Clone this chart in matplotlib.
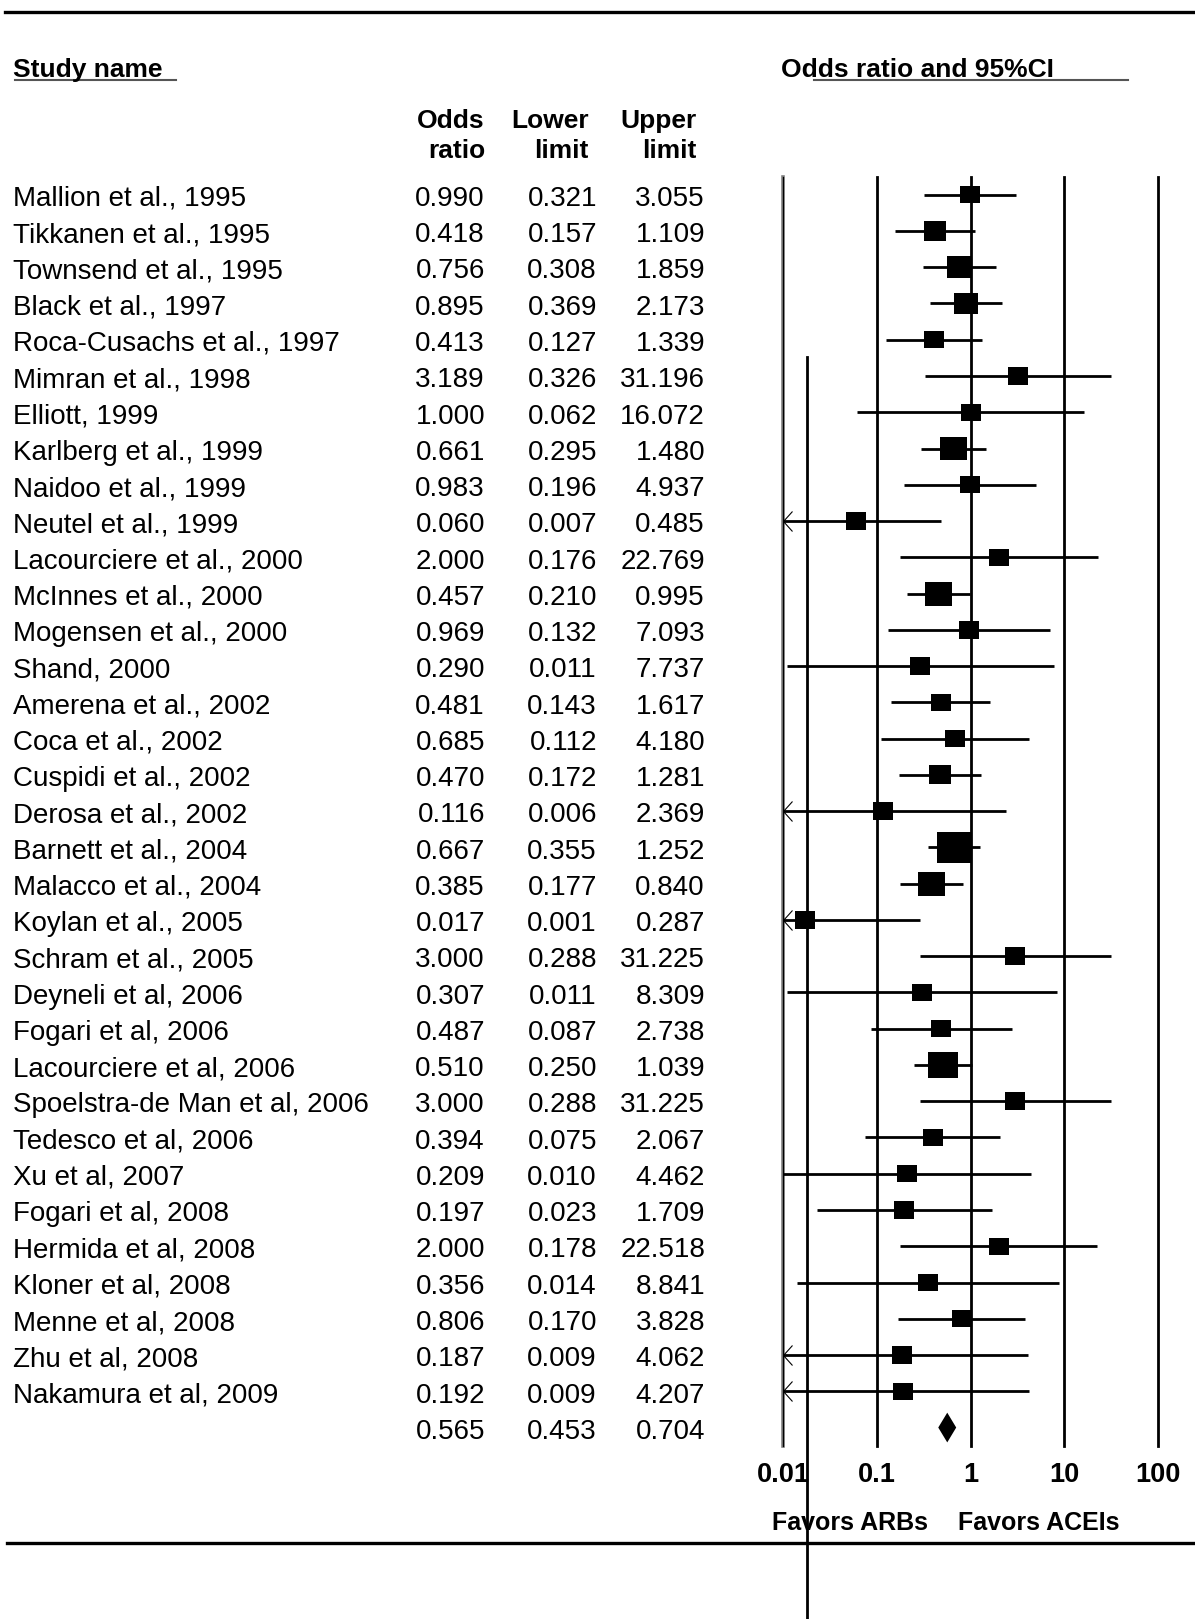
import numpy as np
import matplotlib
matplotlib.use('Agg')
import matplotlib.pyplot as plt
from matplotlib import font_manager
from matplotlib.path import Path
from matplotlib.lines import Line2D
from matplotlib.ticker import NullLocator
from matplotlib.transforms import blended_transform_factory

# the original uses a condensed Arial; use the narrow Liberation cut if present
installed = {f.name for f in font_manager.fontManager.ttflist}
if 'Liberation Sans Narrow' in installed:
    plt.rcParams['font.family'] = ['Liberation Sans Narrow', 'DejaVu Sans']
    fs_scale = 1.07
else:
    plt.rcParams['font.family'] = ['Liberation Sans', 'DejaVu Sans']
    fs_scale = 1.0

# ---- data ----
studies = [
    'Mallion et al., 1995', 'Tikkanen et al., 1995', 'Townsend et al., 1995',
    'Black et al., 1997', 'Roca-Cusachs et al., 1997', 'Mimran et al., 1998',
    'Elliott, 1999', 'Karlberg et al., 1999', 'Naidoo et al., 1999',
    'Neutel et al., 1999', 'Lacourciere et al., 2000', 'McInnes et al., 2000',
    'Mogensen et al., 2000', 'Shand, 2000', 'Amerena et al., 2002',
    'Coca et al., 2002', 'Cuspidi et al., 2002', 'Derosa et al., 2002',
    'Barnett et al., 2004', 'Malacco et al., 2004', 'Koylan et al., 2005',
    'Schram et al., 2005', 'Deyneli et al, 2006', 'Fogari et al, 2006',
    'Lacourciere et al, 2006', 'Spoelstra-de Man et al, 2006', 'Tedesco et al, 2006',
    'Xu et al, 2007', 'Fogari et al, 2008', 'Hermida et al, 2008',
    'Kloner et al, 2008', 'Menne et al, 2008', 'Zhu et al, 2008',
    'Nakamura et al, 2009',
]
odds_ratio = [0.990, 0.418, 0.756, 0.895, 0.413, 3.189, 1.000, 0.661, 0.983,
              0.060, 2.000, 0.457, 0.969, 0.290, 0.481, 0.685, 0.470, 0.116,
              0.667, 0.385, 0.017, 3.000, 0.307, 0.487, 0.510, 3.000, 0.394,
              0.209, 0.197, 2.000, 0.356, 0.806, 0.187, 0.192]
lower = [0.321, 0.157, 0.308, 0.369, 0.127, 0.326, 0.062, 0.295, 0.196,
         0.007, 0.176, 0.210, 0.132, 0.011, 0.143, 0.112, 0.172, 0.006,
         0.355, 0.177, 0.001, 0.288, 0.011, 0.087, 0.250, 0.288, 0.075,
         0.010, 0.023, 0.178, 0.014, 0.170, 0.009, 0.009]
upper = [3.055, 1.109, 1.859, 2.173, 1.339, 31.196, 16.072, 1.480, 4.937,
         0.485, 22.769, 0.995, 7.093, 7.737, 1.617, 4.180, 1.281, 2.369,
         1.252, 0.840, 0.287, 31.225, 8.309, 2.738, 1.039, 31.225, 2.067,
         4.462, 1.709, 22.518, 8.841, 3.828, 4.062, 4.207]
# relative study weight (box size, 1 = smallest box)
box_scale = [1.0, 1.12, 1.25, 1.23, 1.0, 1.0, 1.0, 1.37, 1.0,
             1.0, 1.0, 1.38, 1.0, 1.0, 1.0, 1.0, 1.1, 1.0,
             1.75, 1.37, 1.0, 1.0, 1.0, 1.0, 1.52, 1.0, 1.0,
             1.0, 1.0, 1.0, 1.0, 1.0, 1.0, 1.0]
pooled_or, pooled_lo, pooled_hi = 0.565, 0.453, 0.704
tick_values = [0.01, 0.1, 1, 10, 100]
tick_labels = ['0.01', '0.1', '1', '10', '100']

# ---- layout helpers (pixel -> figure fraction) ----
W, H = 1195, 1619
fig = plt.figure(figsize=(W / 100, H / 100), dpi=100)


def fx(px):
    return px / W


def fy(py):
    return 1 - py / H


FS_ROW = 20 * fs_scale
FS_HEAD = 19 * fs_scale
FS_TICK = 19.5 * fs_scale
FS_FAV = 18 * fs_scale

n_rows = len(studies) + 1
row_h = 36.26
top_px = 194.7 - 0.5 * row_h
bot_px = top_px + n_rows * row_h

ax = fig.add_axes([fx(783), fy(bot_px), fx(1158) - fx(783), (bot_px - top_px) / H])
ax.set_xscale('log')
ax.set_xlim(0.01, 100)
ax.set_ylim(n_rows - 0.5, -0.5)
for s in ax.spines.values():
    s.set_visible(False)
ax.set_yticks([])
ax.set_xticks(tick_values)
ax.set_xticklabels(tick_labels, fontsize=FS_TICK, fontweight='bold')
ax.xaxis.set_minor_locator(NullLocator())
ax.tick_params(axis='x', length=0, pad=12)

# vertical reference lines
for v in tick_values:
    if v == 0.01:
        ax.axvline(v, color='#808080', lw=2.6, clip_on=False)
        ax.axvline(v, color='black', lw=0.9, clip_on=False)
    else:
        ax.axvline(v, color='black', lw=2, clip_on=False)

# custom markers
box = Path([(-1, -0.87), (1, -0.87), (1, 0.87), (-1, 0.87), (-1, -0.87)],
           [Path.MOVETO, Path.LINETO, Path.LINETO, Path.LINETO, Path.CLOSEPOLY])
chevron = Path([(0.9, 1), (0, 0), (0.9, -1)], [Path.MOVETO, Path.LINETO, Path.LINETO])

rows = np.arange(len(studies))
lo_arr = np.array(lower)
hi_arr = np.array(upper)
xmin = ax.get_xlim()[0]
for r, lo, hi in zip(rows, lo_arr, hi_arr):
    ax.plot([max(lo, xmin), hi], [r, r], color='black', lw=2, solid_capstyle='butt')
    if lo < xmin:
        ax.plot(xmin, r, marker=chevron, ms=14.4, mfc='none', mec='black', mew=0.8,
                clip_on=False)

ax.scatter(odds_ratio, rows, s=(14.4 * np.array(box_scale)) ** 2, marker=box,
           c='black', linewidths=0, zorder=3)

pr = len(studies)
ax.fill([pooled_lo, pooled_or, pooled_hi, pooled_or], [pr, pr - 0.41, pr, pr + 0.41],
        color='black', lw=0)

# ---- table text ----
trans = blended_transform_factory(fig.transFigure, ax.transData)
for r, name in enumerate(studies):
    ax.text(fx(13), r + 0.31, name, transform=trans, fontsize=FS_ROW,
            va='baseline', ha='left')
col_x = [485, 597, 705]
for r in range(n_rows):
    if r < len(studies):
        vals = (odds_ratio[r], lower[r], upper[r])
    else:
        vals = (pooled_or, pooled_lo, pooled_hi)
    for cx, v in zip(col_x, vals):
        ax.text(fx(cx), r + 0.31, f'{v:.3f}', transform=trans, fontsize=FS_ROW,
                va='baseline', ha='right')

# headers
fig.text(fx(13), fy(77), 'Study name', fontsize=FS_HEAD, fontweight='bold', va='baseline')
fig.text(fx(781), fy(77), 'Odds ratio and 95%CI', fontsize=FS_HEAD, fontweight='bold',
         va='baseline')
for cx, l1, l2 in [(485, 'Odds', 'ratio'), (589, 'Lower', 'limit'), (697, 'Upper', 'limit')]:
    fig.text(fx(cx), fy(128), l1, fontsize=FS_HEAD, fontweight='bold', va='baseline', ha='right')
    fig.text(fx(cx), fy(158), l2, fontsize=FS_HEAD, fontweight='bold', va='baseline', ha='right')

fig.text(fx(928), fy(1530), 'Favors ARBs', fontsize=FS_FAV, fontweight='bold',
         va='baseline', ha='right')
fig.text(fx(958), fy(1530), 'Favors ACEIs', fontsize=FS_FAV, fontweight='bold',
         va='baseline', ha='left')

# rules and underlines
fig.add_artist(Line2D([fx(5), fx(1195)], [fy(12), fy(12)], color='black', lw=2.4))
fig.add_artist(Line2D([fx(7), fx(1195)], [fy(1543), fy(1543)], color='black', lw=2.4))
fig.add_artist(Line2D([fx(15), fx(176)], [fy(80), fy(80)], color='#555555', lw=1.5))
fig.add_artist(Line2D([fx(814), fx(1128)], [fy(80), fy(80)], color='#555555', lw=1.5))
fig.add_artist(Line2D([fx(807), fx(807)], [fy(357), fy(1619)], color='black', lw=2))

fig.savefig('out.png', dpi=100)
